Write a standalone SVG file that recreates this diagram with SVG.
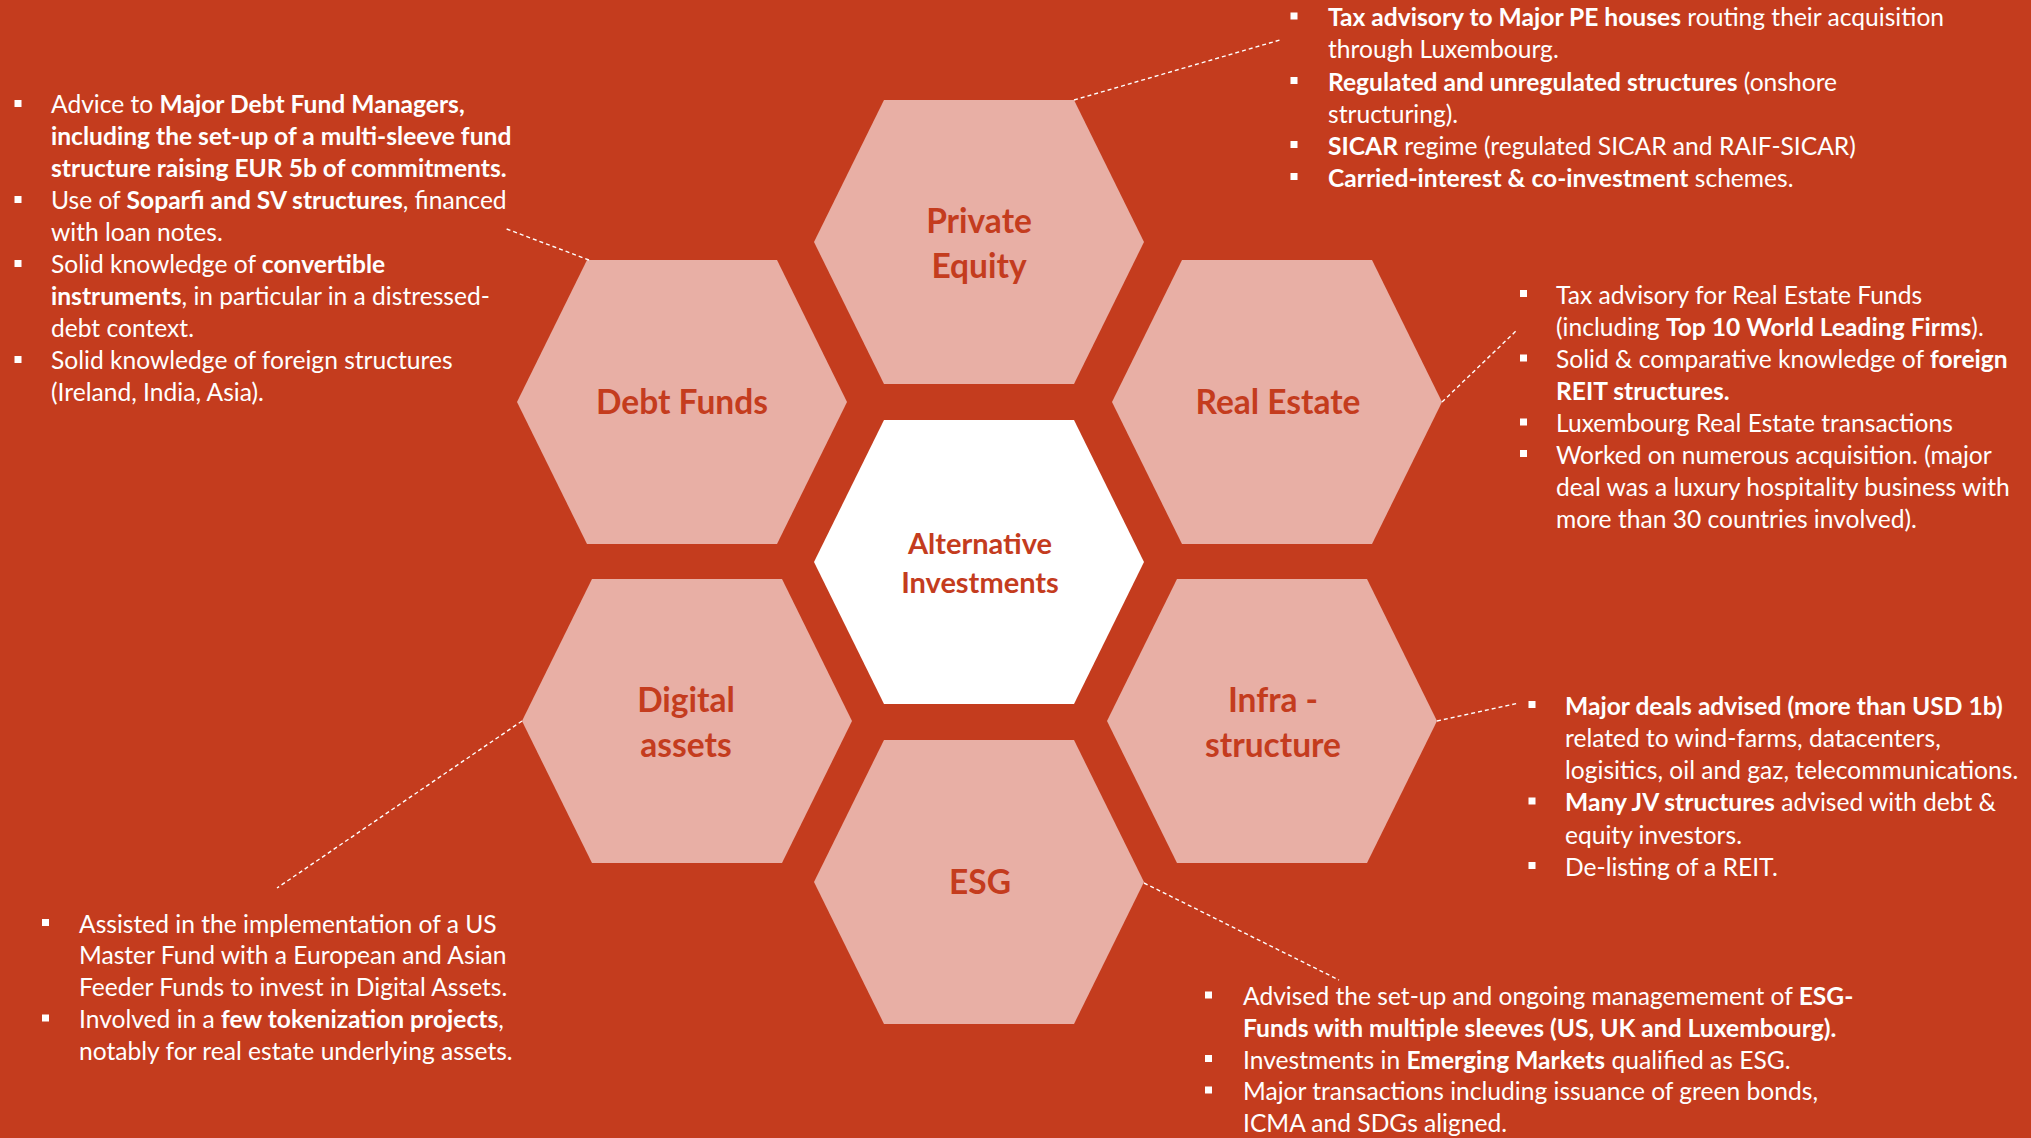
<svg xmlns="http://www.w3.org/2000/svg" width="2031" height="1138" viewBox="0 0 2031 1138">
<style>
.bg{fill:#C43C1E}
.hx{fill:#E8AFA5}
.hc{fill:#FFFFFF}
.lb{font-family:Lato,"Open Sans","Liberation Sans",sans-serif;font-weight:700;font-size:33.5px;fill:#C43C1E;text-anchor:middle}
.lc{font-family:Lato,"Open Sans","Liberation Sans",sans-serif;font-weight:700;font-size:29px;fill:#C43C1E;text-anchor:middle}
.t{font-family:Lato,"Open Sans","Liberation Sans",sans-serif;font-size:24.6px;fill:#FFFFFF}
.bd{font-weight:700}
.cn line{stroke:#FFFFFF;stroke-width:1.4;stroke-dasharray:4 3;fill:none}
.bl{fill:#FFFFFF}
</style>
<defs>
<polygon id="hex" points="-165,0 -95,-142 95,-142 165,0 95,142 -95,142"/>
<rect id="blt" class="bl" width="7" height="7"/>
</defs>
<rect class="bg" x="0" y="0" width="2031" height="1138"/>

<g id="private-equity">
<use href="#hex" class="hx" x="979" y="242"/>
<text class="lb" x="979" y="233">Private</text>
<text class="lb" x="979" y="278">Equity</text>
</g>
<g id="debt-funds">
<use href="#hex" class="hx" x="682" y="402"/>
<text class="lb" x="682" y="414">Debt Funds</text>
</g>
<g id="real-estate">
<use href="#hex" class="hx" x="1277" y="402"/>
<text class="lb" x="1278" y="414">Real Estate</text>
</g>
<g id="alternative-investments">
<use href="#hex" class="hc" x="979" y="562"/>
<text class="lc" x="980" y="554">Alternative</text>
<text class="lc" x="980" y="593">Investments</text>
</g>
<g id="digital-assets">
<use href="#hex" class="hx" x="687" y="721"/>
<text class="lb" x="686" y="712">Digital</text>
<text class="lb" x="686" y="757">assets</text>
</g>
<g id="infrastructure">
<use href="#hex" class="hx" x="1272" y="721"/>
<text class="lb" x="1273" y="712">Infra -</text>
<text class="lb" x="1273" y="757">structure</text>
</g>
<g id="esg">
<use href="#hex" class="hx" x="979" y="882"/>
<text class="lb" x="980" y="894">ESG</text>
</g>

<g id="connectors" class="cn">
<line x1="1074" y1="100" x2="1280" y2="40"/>
<line x1="589" y1="260" x2="504" y2="228"/>
<line x1="1442" y1="402" x2="1517" y2="330"/>
<line x1="1437" y1="721" x2="1519" y2="703"/>
<line x1="1144" y1="883" x2="1339" y2="980"/>
<line x1="522" y1="721" x2="277" y2="888"/>
</g>

<g id="debt-funds-notes">
<use href="#blt" x="14.5" y="100"/>
<use href="#blt" x="14.5" y="196"/>
<use href="#blt" x="14.5" y="260"/>
<use href="#blt" x="14.5" y="356"/>
<text class="t" x="51" y="113">Advice to <tspan class="bd">Major Debt Fund Managers,</tspan></text>
<text class="t bd" x="51" y="145">including the set-up of a multi-sleeve fund</text>
<text class="t bd" x="51" y="177">structure raising EUR 5b of commitments.</text>
<text class="t" x="51" y="209">Use of <tspan class="bd">Soparfi and SV structures</tspan>, financed</text>
<text class="t" x="51" y="241">with loan notes.</text>
<text class="t" x="51" y="273">Solid knowledge of <tspan class="bd">convertible</tspan></text>
<text class="t" x="51" y="305"><tspan class="bd">instruments</tspan>, in particular in a distressed-</text>
<text class="t" x="51" y="337">debt context.</text>
<text class="t" x="51" y="369">Solid knowledge of foreign structures</text>
<text class="t" x="51" y="401">(Ireland, India, Asia).</text>
</g>

<g id="private-equity-notes">
<use href="#blt" x="1290.5" y="12.5"/>
<use href="#blt" x="1290.5" y="77"/>
<use href="#blt" x="1290.5" y="141"/>
<use href="#blt" x="1290.5" y="173"/>
<text class="t" x="1328" y="26"><tspan class="bd">Tax advisory to Major PE houses</tspan> routing their acquisition</text>
<text class="t" x="1328" y="58">through Luxembourg.</text>
<text class="t" x="1328" y="90.5"><tspan class="bd">Regulated and unregulated structures</tspan> (onshore</text>
<text class="t" x="1328" y="122.5">structuring).</text>
<text class="t" x="1328" y="154.5"><tspan class="bd">SICAR</tspan> regime (regulated SICAR and RAIF-SICAR)</text>
<text class="t" x="1328" y="186.5"><tspan class="bd">Carried-interest &amp; co-investment</tspan> schemes.</text>
</g>

<g id="real-estate-notes">
<use href="#blt" x="1520" y="290"/>
<use href="#blt" x="1520" y="354.5"/>
<use href="#blt" x="1520" y="418.5"/>
<use href="#blt" x="1520" y="450"/>
<text class="t" x="1556" y="303.5">Tax advisory for Real Estate Funds</text>
<text class="t" x="1556" y="335.5">(including <tspan class="bd">Top 10 World Leading Firms</tspan>).</text>
<text class="t" x="1556" y="367.5">Solid &amp; comparative knowledge of <tspan class="bd">foreign</tspan></text>
<text class="t bd" x="1556" y="399.5">REIT structures.</text>
<text class="t" x="1556" y="431.5">Luxembourg Real Estate transactions</text>
<text class="t" x="1556" y="463.5">Worked on numerous acquisition. (major</text>
<text class="t" x="1556" y="495.5">deal was a luxury hospitality business with</text>
<text class="t" x="1556" y="527.5">more than 30 countries involved).</text>
</g>

<g id="infrastructure-notes">
<use href="#blt" x="1528.5" y="701"/>
<use href="#blt" x="1528.5" y="797.5"/>
<use href="#blt" x="1528.5" y="862"/>
<text class="t bd" x="1565" y="714.5">Major deals advised (more than USD 1b)</text>
<text class="t" x="1565" y="746.5">related to wind-farms, datacenters,</text>
<text class="t" x="1565" y="779">logisitics, oil and gaz, telecommunications.</text>
<text class="t" x="1565" y="811"><tspan class="bd">Many JV structures</tspan> advised with debt &amp;</text>
<text class="t" x="1565" y="843.5">equity investors.</text>
<text class="t" x="1565" y="875.5">De-listing of a REIT.</text>
</g>

<g id="digital-assets-notes">
<use href="#blt" x="42" y="919"/>
<use href="#blt" x="42" y="1014.5"/>
<text class="t" x="79" y="932.5">Assisted in the implementation of a US</text>
<text class="t" x="79" y="964">Master Fund with a European and Asian</text>
<text class="t" x="79" y="996">Feeder Funds to invest in Digital Assets.</text>
<text class="t" x="79" y="1027.5">Involved in a <tspan class="bd">few tokenization projects</tspan>,</text>
<text class="t" x="79" y="1059.5">notably for real estate underlying assets.</text>
</g>

<g id="esg-notes">
<use href="#blt" x="1205" y="991.5"/>
<use href="#blt" x="1205" y="1055"/>
<use href="#blt" x="1205" y="1086.5"/>
<text class="t" x="1243" y="1005">Advised the set-up and ongoing managemement of <tspan class="bd">ESG-</tspan></text>
<text class="t bd" x="1243" y="1036.5">Funds with multiple sleeves (US, UK and Luxembourg).</text>
<text class="t" x="1243" y="1068.5">Investments in <tspan class="bd">Emerging Markets</tspan> qualified as ESG.</text>
<text class="t" x="1243" y="1100">Major transactions including issuance of green bonds,</text>
<text class="t" x="1243" y="1131.5">ICMA and SDGs aligned.</text>
</g>
</svg>
